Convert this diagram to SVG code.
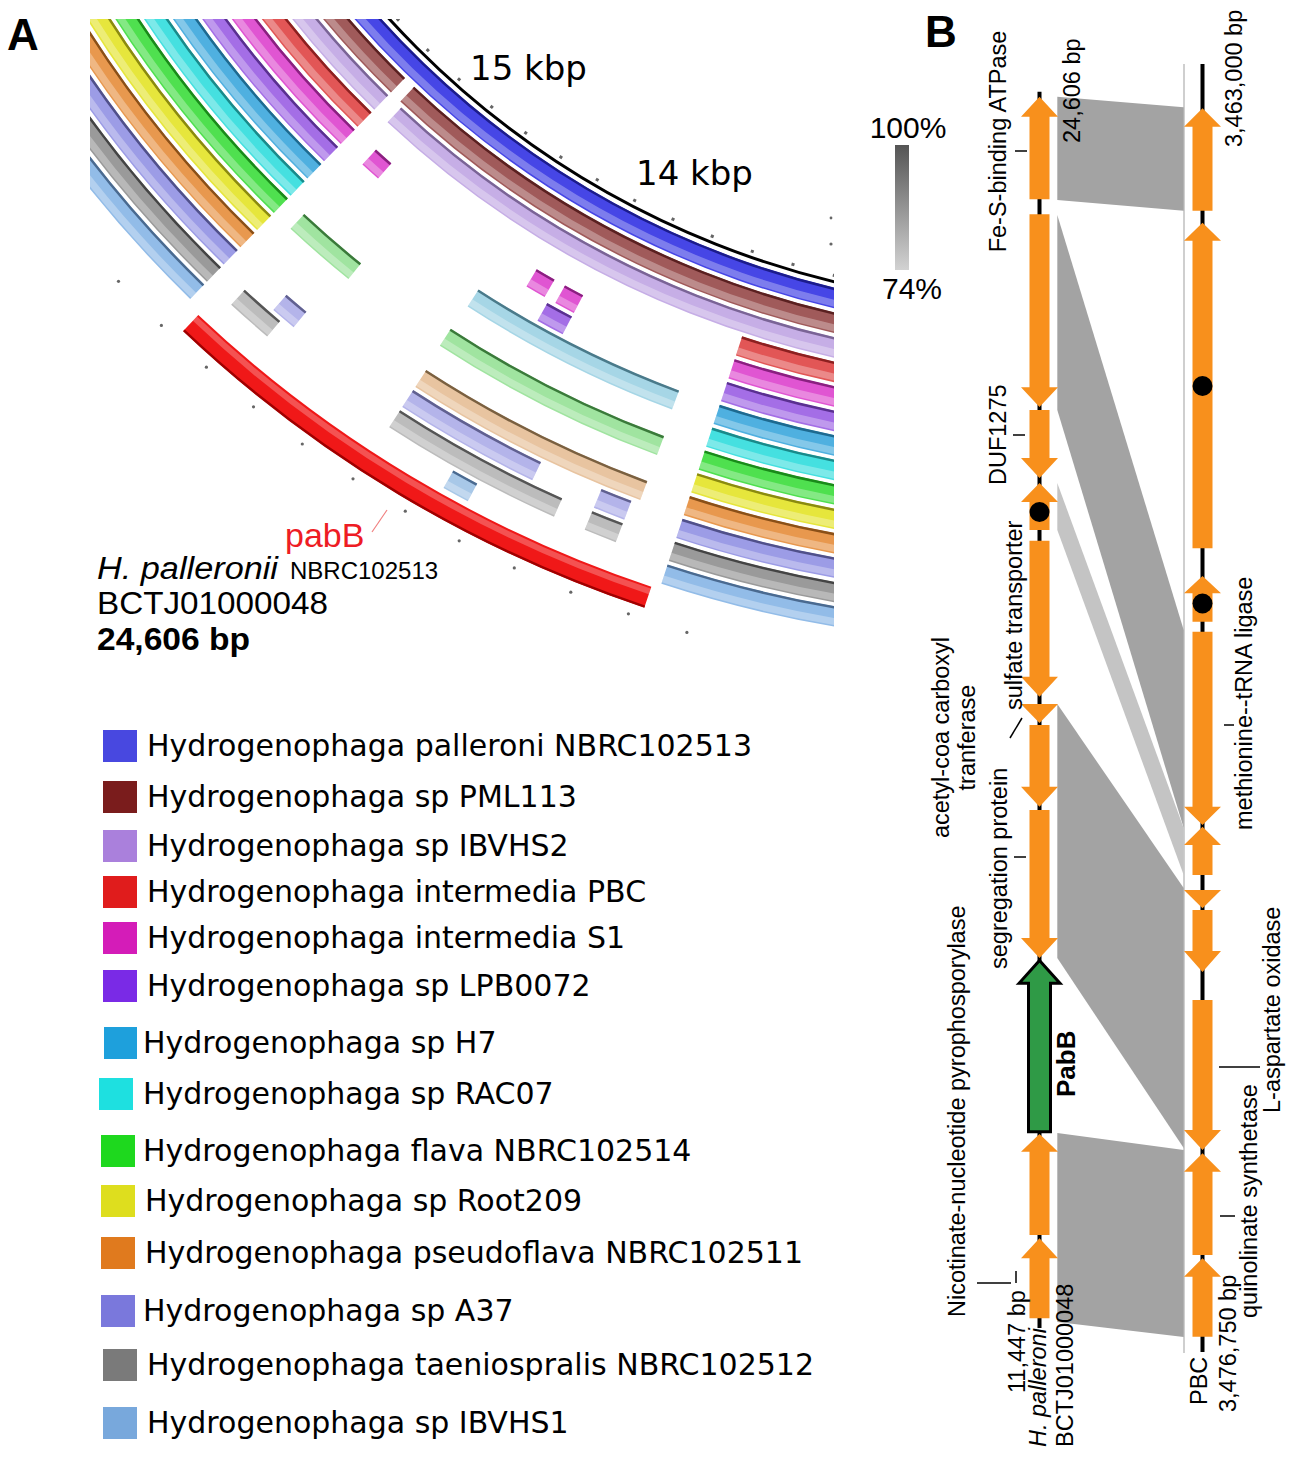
<svg xmlns="http://www.w3.org/2000/svg" width="1293" height="1457" viewBox="0 0 1293 1457">
<defs>
<style>
.ar{font-family:"Liberation Sans",Arial,sans-serif;fill:#000}
.dv{font-family:"DejaVu Sans",sans-serif;fill:#000}
.band{fill:none;stroke-width:20}
.edge{fill:none;stroke-width:2.5}
.hl{fill:none;stroke:#fff;stroke-opacity:.3;stroke-width:7}
.lg{font-family:"DejaVu Sans",sans-serif;font-size:30px;fill:#000}
.gene{fill:#f8901c}
.cmp{fill:#a3a3a3}
.cmpl{fill:#c4c4c4}
.bb{stroke:#000;stroke-width:4;fill:none}
.lab{font-family:"Liberation Sans",Arial,sans-serif;font-size:23.5px;fill:#000}
.tk{stroke:#000;stroke-width:1.5;fill:none}
.dot{fill:#000}
.od{fill:#666}
</style>
<clipPath id="clipA"><rect x="90" y="19" width="744" height="640"/></clipPath>
<linearGradient id="gs" x1="0" y1="0" x2="0" y2="1"><stop offset="0" stop-color="#555"/><stop offset="1" stop-color="#d2d2d2"/></linearGradient>
</defs>
<rect width="1293" height="1457" fill="#fff"/>

<!-- Panel A: BRIG ring plot -->
<g id="ringplot" clip-path="url(#clipA)">
<g transform="translate(1040,-575)">
<circle r="881" fill="none" stroke="#000" stroke-width="3"/>
<circle r="875" pathLength="360" fill="none" stroke="#666" stroke-width="3" stroke-dasharray="0.2 2.6" stroke-dashoffset="-2.7"/>

<g id="ring-palleroni" stroke-dasharray="110 250" stroke-dashoffset="-60">
<circle class="band" r="897" pathLength="360" stroke="#4646e6"/><circle class="edge" r="888" pathLength="360" stroke="#1c1c8c"/><circle class="hl" r="902" pathLength="360"/></g>
<g id="ring-PML113" stroke-dasharray="73.4 0.8 35.8 250" stroke-dashoffset="-60">
<circle class="band" r="921" pathLength="360" stroke="#a05a5a"/><circle class="edge" r="912" pathLength="360" stroke="#5a2020"/><circle class="hl" r="926" pathLength="360"/></g>
<g id="ring-IBVHS2" stroke-dasharray="73.1 1.1 35.8 250" stroke-dashoffset="-60">
<circle class="band" r="945" pathLength="360" stroke="#c6aee6"/><circle class="edge" r="936" pathLength="360" stroke="#7a6496"/><circle class="hl" r="950" pathLength="360"/></g>
<g id="ring-PBC" stroke-dasharray="48.1 26.1 35.8 250" stroke-dashoffset="-60">
<circle class="band" r="969" pathLength="360" stroke="#e25656"/><circle class="edge" r="960" pathLength="360" stroke="#8c2020"/><circle class="hl" r="974" pathLength="360"/></g>
<g id="ring-S1" stroke-dasharray="48.1 26.1 35.8 250" stroke-dashoffset="-60">
<circle class="band" r="993" pathLength="360" stroke="#e055d2"/><circle class="edge" r="984" pathLength="360" stroke="#8a2080"/><circle class="hl" r="998" pathLength="360"/></g>
<g id="ring-S1-frag" stroke-dasharray="1.2 0.7 1.2 10.5 1.2 400" stroke-dashoffset="-117.7">
<circle class="band" r="993" pathLength="360" stroke="#e055d2"/><circle class="edge" r="984" pathLength="360" stroke="#8a2080"/><circle class="hl" r="998" pathLength="360"/></g>
<g id="ring-LPB0072" stroke-dasharray="48.1 26.1 35.8 250" stroke-dashoffset="-60">
<circle class="band" r="1017" pathLength="360" stroke="#a46ee6"/><circle class="edge" r="1008" pathLength="360" stroke="#5a3090"/><circle class="hl" r="1022" pathLength="360"/></g>
<g id="ring-LPB0072-frag" stroke-dasharray="1.6 400" stroke-dashoffset="-117.7">
<circle class="band" r="1017" pathLength="360" stroke="#a46ee6"/><circle class="edge" r="1008" pathLength="360" stroke="#5a3090"/><circle class="hl" r="1022" pathLength="360"/></g>
<g id="ring-H7" stroke-dasharray="48.1 26.1 35.8 250" stroke-dashoffset="-60">
<circle class="band" r="1041" pathLength="360" stroke="#4fb0e0"/><circle class="edge" r="1032" pathLength="360" stroke="#1e6a90"/><circle class="hl" r="1046" pathLength="360"/></g>
<g id="ring-H7-frag" stroke-dasharray="12.5 400" stroke-dashoffset="-110.5">
<circle class="band" r="1041" pathLength="360" stroke="#a6d6e6"/><circle class="edge" r="1032" pathLength="360" stroke="#4a7a8a"/><circle class="hl" r="1046" pathLength="360"/></g>
<g id="ring-RAC07" stroke-dasharray="48.1 26.1 35.8 250" stroke-dashoffset="-60">
<circle class="band" r="1065" pathLength="360" stroke="#45e0e0"/><circle class="edge" r="1056" pathLength="360" stroke="#1a8a8a"/><circle class="hl" r="1070" pathLength="360"/></g>
<g id="ring-flava" stroke-dasharray="48.1 26.1 35.8 250" stroke-dashoffset="-60">
<circle class="band" r="1089" pathLength="360" stroke="#4fe04f"/><circle class="edge" r="1080" pathLength="360" stroke="#1a8a1a"/><circle class="hl" r="1094" pathLength="360"/></g>
<g id="ring-flava-frag" stroke-dasharray="12.7 5.9 4 400" stroke-dashoffset="-110.4">
<circle class="band" r="1089" pathLength="360" stroke="#a0e4a0"/><circle class="edge" r="1080" pathLength="360" stroke="#3a7a3a"/><circle class="hl" r="1094" pathLength="360"/></g>
<g id="ring-Root209" stroke-dasharray="48.1 26.1 35.8 250" stroke-dashoffset="-60">
<circle class="band" r="1113" pathLength="360" stroke="#e6e63c"/><circle class="edge" r="1104" pathLength="360" stroke="#8a8a10"/><circle class="hl" r="1118" pathLength="360"/></g>
<g id="ring-pseudoflava" stroke-dasharray="48.1 26.1 35.8 250" stroke-dashoffset="-60">
<circle class="band" r="1137" pathLength="360" stroke="#e8984e"/><circle class="edge" r="1128" pathLength="360" stroke="#8a5018"/><circle class="hl" r="1142" pathLength="360"/></g>
<g id="ring-pseudoflava-frag" stroke-dasharray="12.6 400" stroke-dashoffset="-110.4">
<circle class="band" r="1137" pathLength="360" stroke="#e8c4a0"/><circle class="edge" r="1128" pathLength="360" stroke="#7a6040"/><circle class="hl" r="1142" pathLength="360"/></g>
<g id="ring-A37" stroke-dasharray="48.1 26.1 35.8 250" stroke-dashoffset="-60">
<circle class="band" r="1161" pathLength="360" stroke="#9c9ce6"/><circle class="edge" r="1152" pathLength="360" stroke="#50508a"/><circle class="hl" r="1166" pathLength="360"/></g>
<g id="ring-A37-frag" stroke-dasharray="1.6 3.3 7.3 6.6 1.3 400" stroke-dashoffset="-110.8">
<circle class="band" r="1161" pathLength="360" stroke="#b4b4ea"/><circle class="edge" r="1152" pathLength="360" stroke="#606090"/><circle class="hl" r="1166" pathLength="360"/></g>
<g id="ring-taeniospralis" stroke-dasharray="48.1 26.1 35.8 250" stroke-dashoffset="-60">
<circle class="band" r="1185" pathLength="360" stroke="#9a9a9a"/><circle class="edge" r="1176" pathLength="360" stroke="#444"/><circle class="hl" r="1190" pathLength="360"/></g>
<g id="ring-taeniospralis-frag" stroke-dasharray="1.6 1.6 9 7.3 2.3 400" stroke-dashoffset="-110.8">
<circle class="band" r="1185" pathLength="360" stroke="#bcbcbc"/><circle class="edge" r="1176" pathLength="360" stroke="#555"/><circle class="hl" r="1190" pathLength="360"/></g>
<g id="ring-IBVHS1" stroke-dasharray="48.1 26.1 35.8 250" stroke-dashoffset="-60">
<circle class="band" r="1209" pathLength="360" stroke="#92bce8"/><circle class="edge" r="1200" pathLength="360" stroke="#4a6a90"/><circle class="hl" r="1214" pathLength="360"/></g>
<g id="ring-IBVHS1-frag" stroke-dasharray="1.3 400" stroke-dashoffset="-118">
<circle class="band" r="1209" pathLength="360" stroke="#a8c8e8"/><circle class="edge" r="1200" pathLength="360" stroke="#4a6a90"/><circle class="hl" r="1214" pathLength="360"/></g>
<g id="ring-pabB" stroke-dasharray="24.9 400" stroke-dashoffset="-108.5">
<circle r="1236" pathLength="360" fill="none" stroke="#f01818" stroke-width="22"/><circle r="1246" pathLength="360" fill="none" stroke="#a00000" stroke-width="2.5"/><circle r="1230" pathLength="360" fill="none" stroke="#fff" stroke-opacity=".25" stroke-width="6"/></g>
</g>
<g id="outer-ticks">
<circle class="od" cx="118.5" cy="281.3" r="1.6"/><circle class="od" cx="161.4" cy="325.4" r="1.6"/><circle class="od" cx="206.4" cy="367.2" r="1.6"/><circle class="od" cx="253.5" cy="406.8" r="1.6"/><circle class="od" cx="302.3" cy="444" r="1.6"/><circle class="od" cx="353" cy="478.8" r="1.6"/><circle class="od" cx="405.3" cy="511.2" r="1.6"/><circle class="od" cx="459.2" cy="540.8" r="1.6"/><circle class="od" cx="514.3" cy="567.9" r="1.6"/><circle class="od" cx="570.8" cy="592.2" r="1.6"/><circle class="od" cx="628.4" cy="613.8" r="1.6"/><circle class="od" cx="686.9" cy="632.4" r="1.6"/>
<circle class="od" cx="831" cy="218" r="1.4"/><circle class="od" cx="831" cy="244" r="1.6"/>
</g>
</g>
<text class="dv" x="470" y="80" font-size="34">15 kbp</text>
<text class="dv" x="636" y="185" font-size="34">14 kbp</text>
<line x1="372" y1="532" x2="387" y2="510" stroke="#f08080" stroke-width="1.2"/>
<text class="ar" x="285" y="547" font-size="34" style="fill:#ee1c24">pabB</text>
<text class="ar" x="97" y="579" font-size="31" font-style="italic" textLength="181" lengthAdjust="spacingAndGlyphs">H. palleronii</text>
<text class="ar" x="290" y="579" font-size="24">NBRC102513</text>
<text class="ar" x="97" y="614" font-size="31" textLength="231" lengthAdjust="spacingAndGlyphs">BCTJ01000048</text>
<text class="ar" x="97" y="650" font-size="31" font-weight="bold" textLength="153" lengthAdjust="spacingAndGlyphs">24,606 bp</text>
<text class="ar" x="7" y="50" font-size="44" font-weight="bold">A</text>
<text class="ar" x="925" y="47" font-size="44" font-weight="bold">B</text>

<!-- Legend -->
<g id="legend">
<g id="lg1"><rect x="103" y="730" width="34" height="32" fill="#4848e0"/><text class="lg" x="147" y="756">Hydrogenophaga palleroni NBRC102513</text></g>
<g id="lg2"><rect x="103" y="781" width="34" height="32" fill="#7a1c1c"/><text class="lg" x="147" y="807">Hydrogenophaga sp PML113</text></g>
<g id="lg3"><rect x="103" y="830" width="34" height="32" fill="#aa80dc"/><text class="lg" x="147" y="856">Hydrogenophaga sp IBVHS2</text></g>
<g id="lg4"><rect x="103" y="876" width="34" height="32" fill="#e01c1c"/><text class="lg" x="147" y="902">Hydrogenophaga intermedia PBC</text></g>
<g id="lg5"><rect x="103" y="922" width="34" height="32" fill="#d41cb8"/><text class="lg" x="147" y="948">Hydrogenophaga intermedia S1</text></g>
<g id="lg6"><rect x="103" y="970" width="34" height="32" fill="#7a2ae6"/><text class="lg" x="147" y="996">Hydrogenophaga sp LPB0072</text></g>
<g id="lg7"><rect x="104" y="1027" width="33" height="32" fill="#1ea0dc"/><text class="lg" x="143" y="1053">Hydrogenophaga sp H7</text></g>
<g id="lg8"><rect x="99" y="1078" width="34" height="32" fill="#1ee0e0"/><text class="lg" x="143" y="1104">Hydrogenophaga sp RAC07</text></g>
<g id="lg9"><rect x="101" y="1135" width="34" height="32" fill="#1ed81e"/><text class="lg" x="143" y="1161">Hydrogenophaga flava NBRC102514</text></g>
<g id="lg10"><rect x="101" y="1185" width="34" height="32" fill="#dede1e"/><text class="lg" x="145" y="1211">Hydrogenophaga sp Root209</text></g>
<g id="lg11"><rect x="101" y="1237" width="34" height="32" fill="#e07a1e"/><text class="lg" x="145" y="1263">Hydrogenophaga pseudoflava NBRC102511</text></g>
<g id="lg12"><rect x="101" y="1295" width="34" height="32" fill="#7a78dc"/><text class="lg" x="143" y="1321">Hydrogenophaga sp A37</text></g>
<g id="lg13"><rect x="103" y="1349" width="34" height="32" fill="#7a7a7a"/><text class="lg" x="147" y="1375">Hydrogenophaga taeniospralis NBRC102512</text></g>
<g id="lg14"><rect x="103" y="1407" width="34" height="32" fill="#78a8dc"/><text class="lg" x="147" y="1433">Hydrogenophaga sp IBVHS1</text></g>
</g>

<!-- Panel B scale -->
<g id="scale">
<rect x="895" y="145" width="14" height="125" fill="url(#gs)"/>
<text class="ar" x="908" y="138" font-size="30" text-anchor="middle">100%</text>
<text class="ar" x="912" y="299" font-size="30" text-anchor="middle">74%</text>
</g>

<!-- Panel B connectors (comparisons) -->
<g id="connectors">
<line x1="1184" y1="64" x2="1184" y2="1353" stroke="#cfcfcf" stroke-width="2"/>
<polygon class="cmp" points="1057.3,96.7 1183.7,107.3 1183.7,210.7 1057.3,200"/>
<polygon class="cmp" points="1057.3,215 1183.7,630 1183.7,828 1057.3,410"/>
<polygon class="cmpl" points="1057.3,483 1183.7,828 1183.7,875 1057.3,530"/>
<polygon class="cmp" points="1057.3,704 1183.7,888 1183.7,1148 1057.3,958"/>
<polygon class="cmp" points="1057.3,1133 1183.7,1150 1183.7,1337 1057.3,1322"/>
</g>

<!-- Left track: H. palleroni -->
<g id="track-left">
<line class="bb" x1="1039.5" y1="91.7" x2="1039.5" y2="1328"/>
<polygon id="L1" class="gene" points="1039.5,96.7 1058,116.7 1049.5,116.7 1049.5,199.3 1029.5,199.3 1029.5,116.7 1021,116.7"/>
<polygon id="L2" class="gene" points="1029.5,214.3 1049.5,214.3 1049.5,387.3 1058,387.3 1039.5,407 1021,387.3 1029.5,387.3"/>
<polygon id="L3" class="gene" points="1029.5,410 1049.5,410 1049.5,458 1058,458 1039.5,478 1021,458 1029.5,458"/>
<polygon id="L4" class="gene" points="1039.5,483 1058,502 1049.5,502 1049.5,530 1029.5,530 1029.5,502 1021,502"/>
<circle class="dot" cx="1039.5" cy="512" r="10"/>
<polygon id="L5" class="gene" points="1029.5,540.7 1049.5,540.7 1049.5,676.7 1058,676.7 1039.5,696.7 1021,676.7 1029.5,676.7"/>
<polygon id="L6" class="gene" points="1021,704 1058,704 1039.5,723"/>
<polygon id="L7" class="gene" points="1029.5,725 1049.5,725 1049.5,786.7 1058,786.7 1039.5,806.7 1021,786.7 1029.5,786.7"/>
<polygon id="L8" class="gene" points="1029.5,810 1049.5,810 1049.5,938 1058,938 1039.5,958 1021,938 1029.5,938"/>
<polygon id="PabB" points="1039.5,960.5 1060,983.3 1050.5,983.3 1050.5,1131.7 1028.5,1131.7 1028.5,983.3 1019,983.3" fill="#2f9a46" stroke="#000" stroke-width="3"/>
<polygon id="L10" class="gene" points="1039.5,1134 1058,1151.7 1049.5,1151.7 1049.5,1235 1029.5,1235 1029.5,1151.7 1021,1151.7"/>
<polygon id="L11" class="gene" points="1039.5,1238.3 1058,1258.3 1049.5,1258.3 1049.5,1318.3 1029.5,1318.3 1029.5,1258.3 1021,1258.3"/>
</g>

<!-- Right track: PBC -->
<g id="track-right">
<line class="bb" x1="1202.5" y1="64" x2="1202.5" y2="1352"/>
<polygon id="R1" class="gene" points="1202.5,108.3 1221,126.7 1212.5,126.7 1212.5,210.7 1192.5,210.7 1192.5,126.7 1184,126.7"/>
<polygon id="R2" class="gene" points="1202.5,222.7 1221,240.7 1212.5,240.7 1212.5,548.3 1192.5,548.3 1192.5,240.7 1184,240.7"/>
<circle class="dot" cx="1202.5" cy="386" r="10"/>
<polygon id="R3" class="gene" points="1202.5,576 1221,593.3 1212.5,593.3 1212.5,621.7 1192.5,621.7 1192.5,593.3 1184,593.3"/>
<circle class="dot" cx="1202.5" cy="603.5" r="10"/>
<polygon id="R4" class="gene" points="1192.5,631.7 1212.5,631.7 1212.5,806.7 1221,806.7 1202.5,825 1184,806.7 1192.5,806.7"/>
<polygon id="R5" class="gene" points="1202.5,826.7 1221,845 1212.5,845 1212.5,875 1192.5,875 1192.5,845 1184,845"/>
<polygon id="R6" class="gene" points="1184,890 1221,890 1202.5,908.3"/>
<polygon id="R7" class="gene" points="1192.5,910 1212.5,910 1212.5,951 1221,951 1202.5,972 1184,951 1192.5,951"/>
<polygon id="R8" class="gene" points="1192.5,1000 1212.5,1000 1212.5,1130 1221,1130 1202.5,1150 1184,1130 1192.5,1130"/>
<polygon id="R9" class="gene" points="1202.5,1153.3 1221,1171.7 1212.5,1171.7 1212.5,1255 1192.5,1255 1192.5,1171.7 1184,1171.7"/>
<polygon id="R10" class="gene" points="1202.5,1258.3 1221,1276.7 1212.5,1276.7 1212.5,1336.7 1192.5,1336.7 1192.5,1276.7 1184,1276.7"/>
</g>

<!-- Panel B labels -->
<g id="labels-B">
<text class="lab" transform="translate(1006 141.5) rotate(-90)" text-anchor="middle">Fe-S-binding ATPase</text>
<line class="tk" x1="1015" y1="151" x2="1027" y2="151"/>
<text class="lab" transform="translate(1080 143) rotate(-90)">24,606 bp</text>
<text class="lab" transform="translate(1242 147) rotate(-90)">3,463,000 bp</text>
<text class="lab" transform="translate(1006 485) rotate(-90)">DUF1275</text>
<line class="tk" x1="1013" y1="435" x2="1025" y2="435"/>
<text class="lab" transform="translate(1022 710) rotate(-90)">sulfate transporter</text>
<text class="lab" transform="translate(948.5 737.5) rotate(-90)" text-anchor="middle">acetyl-coa carboxyl</text>
<text class="lab" transform="translate(975 737.5) rotate(-90)" text-anchor="middle">tranferase</text>
<line class="tk" x1="1022" y1="718" x2="1010" y2="738"/>
<text class="lab" transform="translate(1007 969) rotate(-90)">segregation protein</text>
<line class="tk" x1="1014" y1="857" x2="1026" y2="857"/>
<text class="lab" transform="translate(965 1317) rotate(-90)">Nicotinate-nucleotide pyrophosporylase</text>
<line class="tk" x1="977" y1="1283" x2="1011" y2="1283"/>
<line class="tk" x1="1016" y1="1271" x2="1016" y2="1283"/>
<text class="lab" transform="translate(1025 1393) rotate(-90)">11,447 bp</text>
<text class="lab" transform="translate(1046 1447) rotate(-90)" font-style="italic">H. palleroni</text>
<text class="lab" transform="translate(1073 1447) rotate(-90)">BCTJ01000048</text>
<text class="ar" transform="translate(1075 1097) rotate(-90)" font-size="26" font-weight="bold">PabB</text>
<text class="lab" transform="translate(1252 830) rotate(-90)">methionine--tRNA ligase</text>
<line class="tk" x1="1224" y1="725" x2="1234" y2="725"/>
<text class="lab" transform="translate(1280 1113) rotate(-90)">L-aspartate oxidase</text>
<line class="tk" x1="1219" y1="1067" x2="1260" y2="1067"/>
<text class="lab" transform="translate(1257 1318) rotate(-90)">quinolinate synthetase</text>
<line class="tk" x1="1220" y1="1216" x2="1235" y2="1216"/>
<text class="lab" transform="translate(1236 1412) rotate(-90)">3,476,750 bp</text>
<text class="lab" transform="translate(1207 1405) rotate(-90)">PBC</text>
</g>
</svg>
